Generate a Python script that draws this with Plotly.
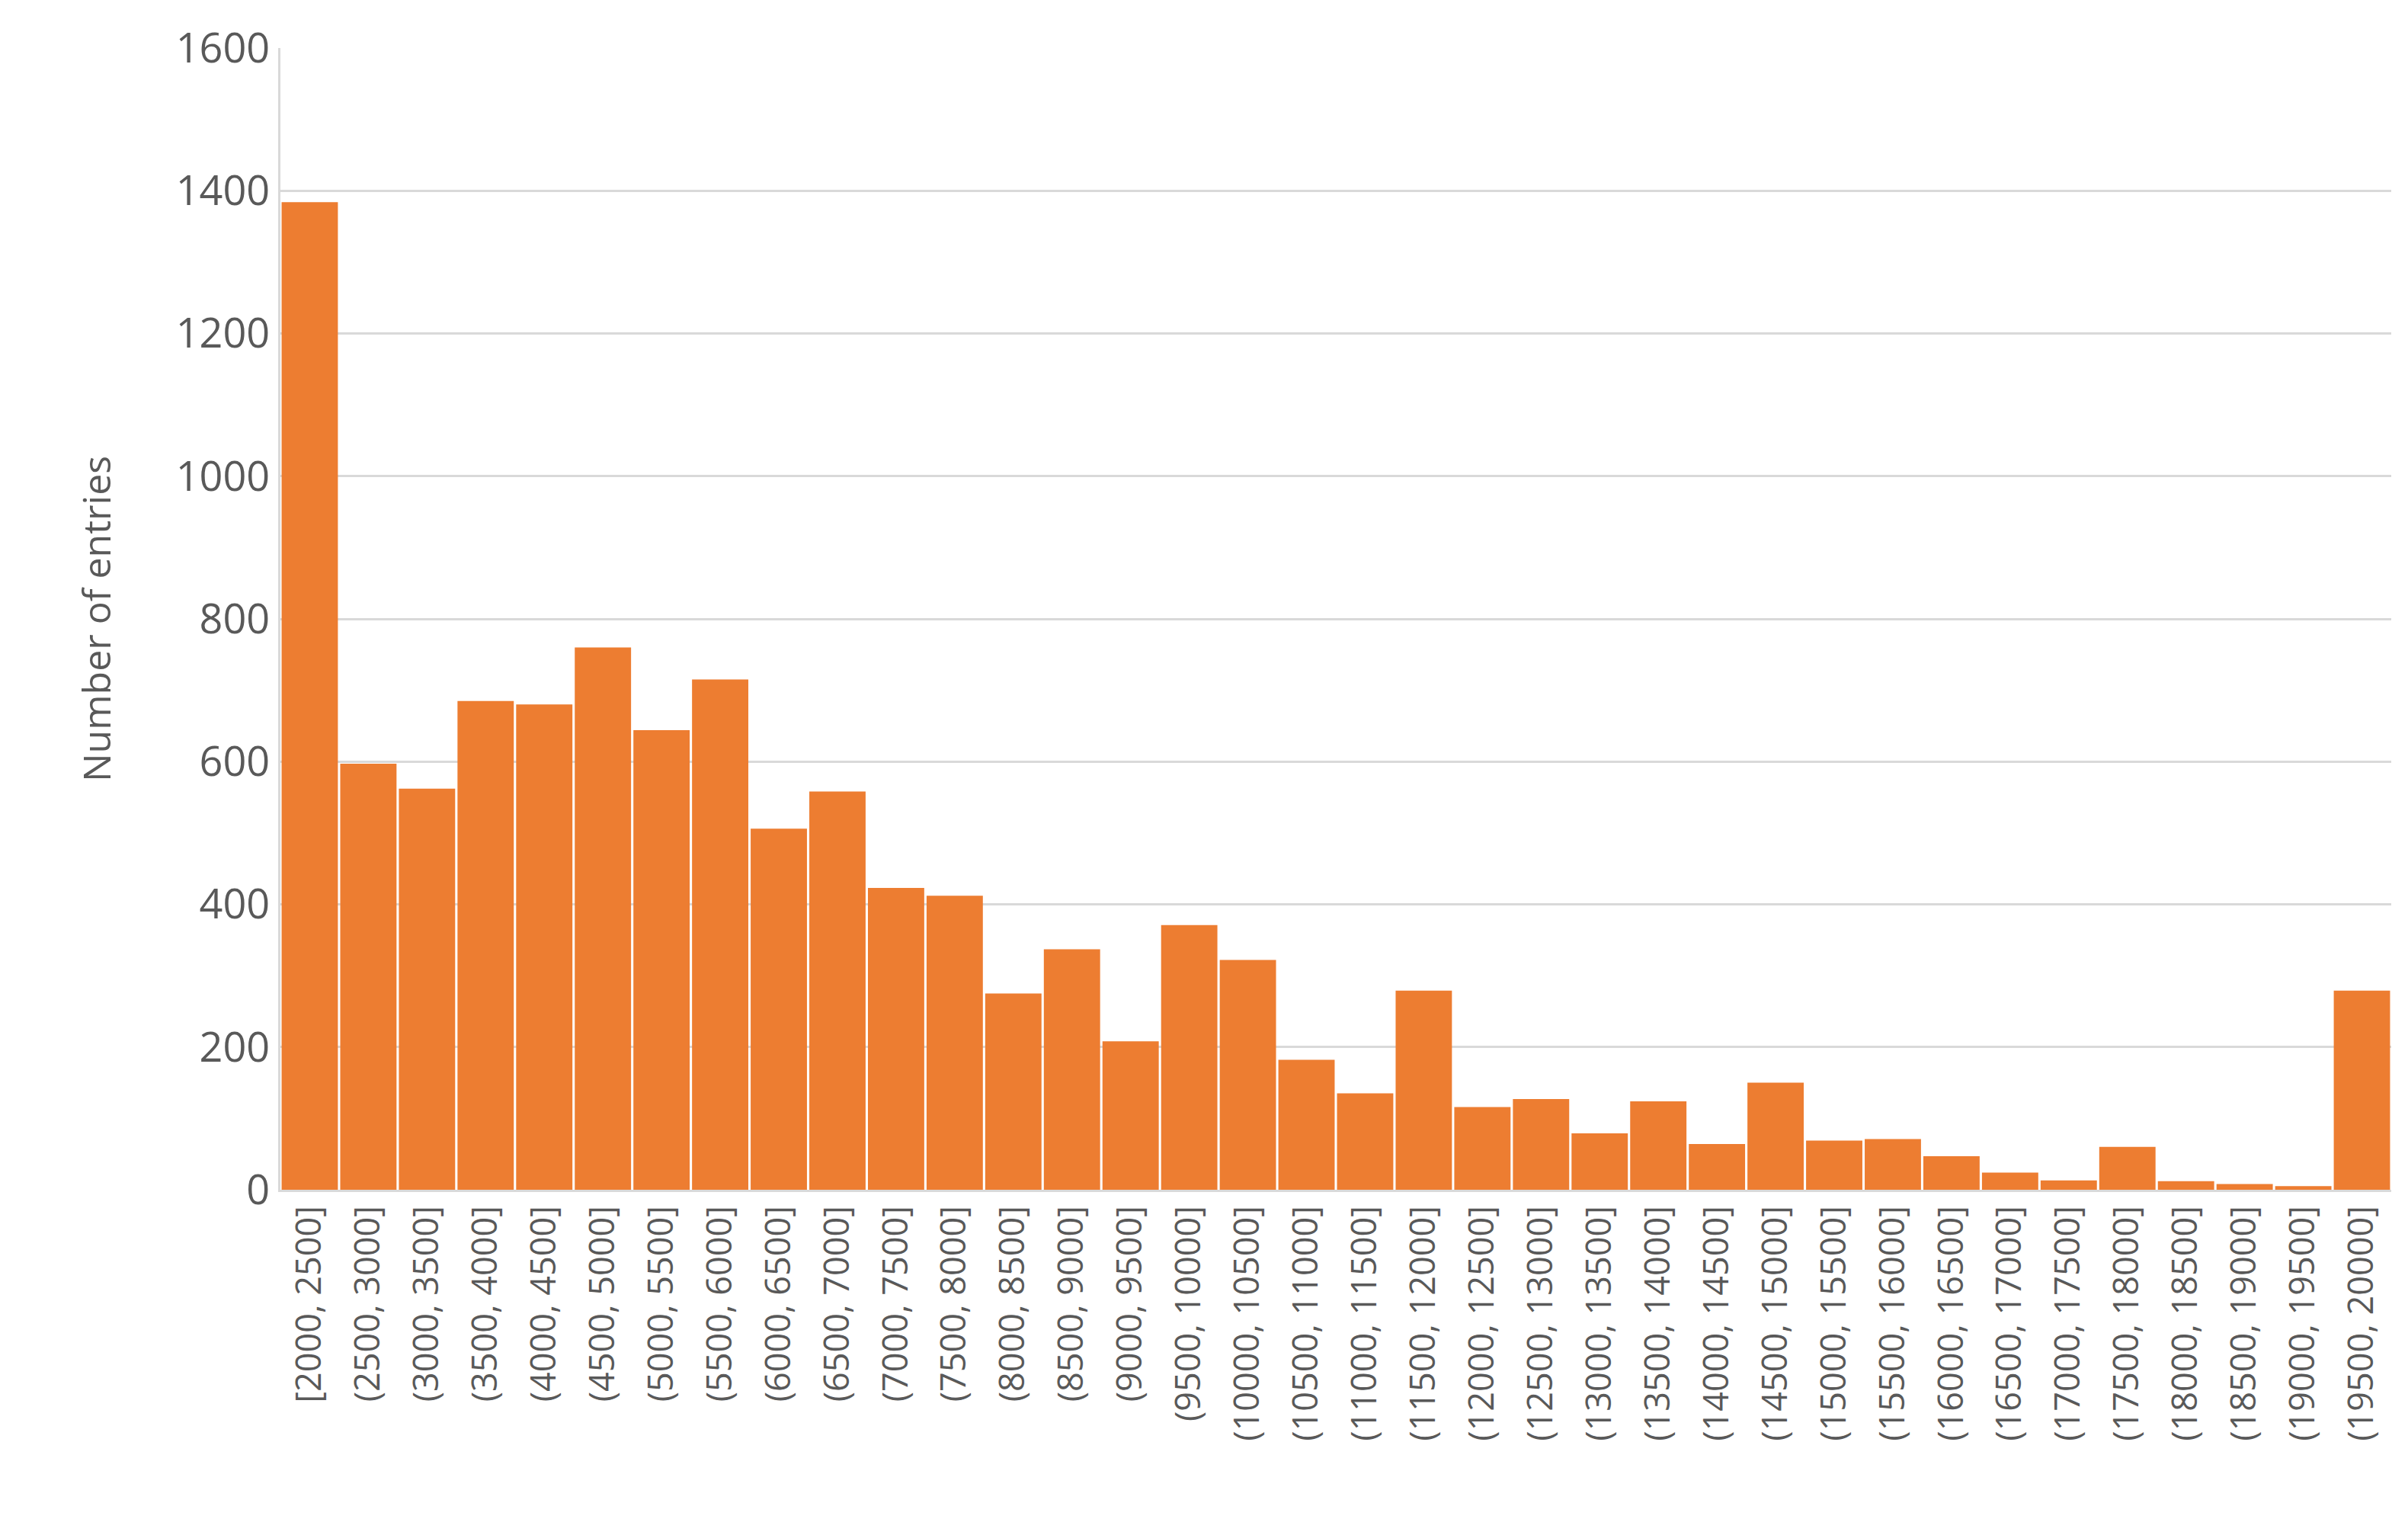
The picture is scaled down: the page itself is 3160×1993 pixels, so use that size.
import plotly.graph_objects as go

edges = list(range(2000, 20001, 500))
bins = [("[" if i == 0 else "(") + f"{edges[i]}, {edges[i + 1]}]" for i in range(len(edges) - 1)]
counts = [1384, 597, 562, 685, 680, 760, 644, 715, 506, 558, 423, 412, 275, 337, 208, 371,
          322, 182, 135, 279, 116, 127, 79, 124, 64, 150, 69, 71, 47, 24, 13, 60, 12, 8, 5, 279]

fig = go.Figure(go.Bar(x=bins, y=counts, marker_color="#ED7D31", marker_line_width=0))

fig.update_layout(
    width=3160, height=1993,
    paper_bgcolor="white", plot_bgcolor="white",
    font=dict(family="Open Sans, DejaVu Sans", color="#595959"),
    margin=dict(l=360, r=30, t=55, b=440),
    bargap=0.04,
    showlegend=False,
)
fig.update_yaxes(
    range=[0, 1600], dtick=200, tickfont=dict(size=54),
    gridcolor="#D9D9D9", gridwidth=3, zeroline=False,
    showline=True, linecolor="#D9D9D9", linewidth=3,
    title=dict(text="Number of entries", font=dict(size=50), standoff=70),
)
fig.update_xaxes(
    tickangle=-90, tickfont=dict(size=45),
    showline=True, linecolor="#D9D9D9", linewidth=3,
)

fig.write_html("out.html")
